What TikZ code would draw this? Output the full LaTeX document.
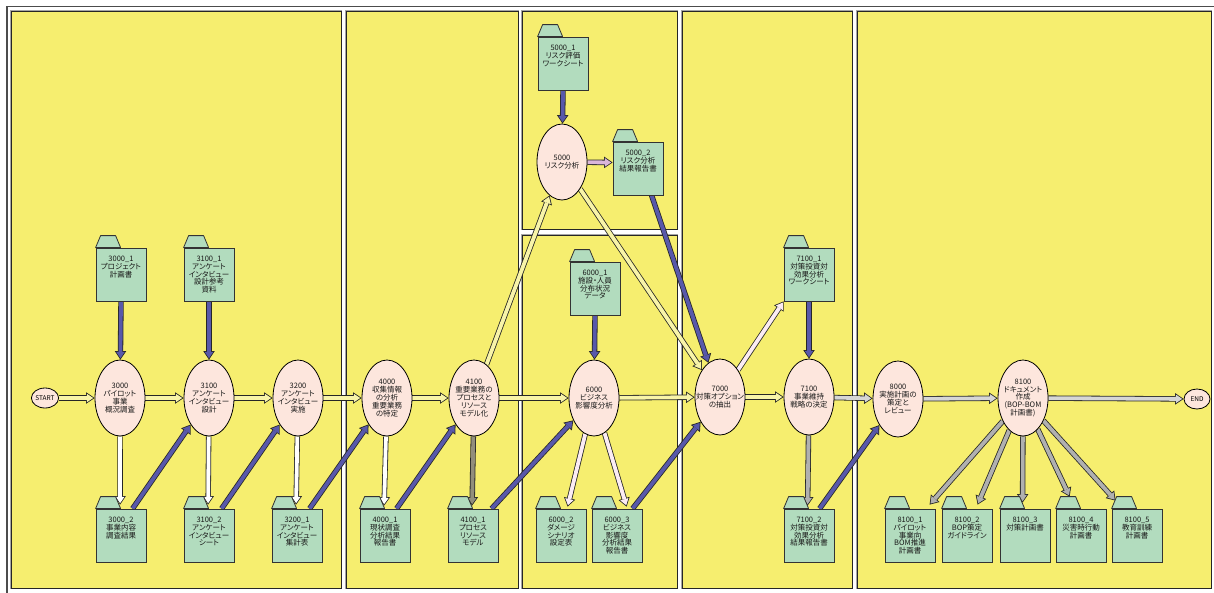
\documentclass[tikz,border=0pt]{standalone}
\usepackage{fontspec}
\setmainfont{Noto Sans CJK JP}[RawFeature=+palt]
\usetikzlibrary{arrows.meta,shapes.geometric,calc}
\pgfdeclarelayer{panels}
\pgfdeclarelayer{links}
\pgfsetlayers{panels,links,main}

\definecolor{panelY}{RGB}{246,238,111}
\definecolor{docG}{RGB}{178,220,190}
\definecolor{procP}{RGB}{253,230,221}
\definecolor{flowY}{RGB}{248,244,168}
\definecolor{inBlue}{RGB}{88,88,170}
\definecolor{outWhite}{RGB}{255,255,255}
\definecolor{outPink}{RGB}{251,236,244}
\definecolor{riskPink}{RGB}{218,182,218}
\definecolor{endGray}{RGB}{214,214,214}
\definecolor{docGray}{RGB}{176,176,176}
\definecolor{modelGray}{RGB}{146,142,124}

\tikzset{
  x=1pt, y=-1pt,
  panel/.style={fill=panelY, draw=black!85, line width=0.9pt,
    preaction={draw=black!35, line width=2.6pt}},
  proc/.style={ellipse, draw=black, line width=0.8pt, fill=procP,
    minimum width=50pt, minimum height=76pt, inner sep=0pt},
  term/.style={ellipse, draw=black, line width=0.8pt, fill=procP,
    minimum width=26pt, minimum height=20pt, inner sep=0pt,
    font=\fontsize{6.5}{6.5}\selectfont},
  txt/.style={align=center, inner sep=0pt, text=black!90,
    font=\fontsize{7.5}{7.9}\selectfont},
  docbox/.style={rectangle, draw=black!80, line width=0.8pt, fill=docG,
    minimum width=50pt, minimum height=53pt, inner sep=0pt},
  doctab/.style={draw=black!80, line width=0.8pt, fill=docG, line join=round},
  linkout/.style={draw=black!85, line width=5.4pt,
    -{Triangle[length=8.5pt 0 0, width=11.5pt 0 0, line width=0pt 0 0]}},
  linkin/.style={draw=#1, line width=3.8pt, shorten >=1.41pt,
    -{Triangle[length=6.3pt 0 0, width=8.5pt 0 0, line width=0pt 0 0]}},
}

% process ellipse: name, x, y, label
\newcommand\procnode[4]{%
  \node[proc] (#1) at (#2,#3) {};
  \node[txt] (#1-t) at (#1) {#4};}
% document folder: name, left x, top y, label
\newcommand\docnode[4]{%
  \node[docbox] (#1) at ({#2+25},{#3+26.5}) {};
  \draw[doctab] (#1.north west) -- ++(5,-12) -- ++(15,0) -- ++(5,12) -- cycle;
  \node[txt, anchor=north] (#1-t) at ([yshift=-8pt]#1.north) {#4};}
% hollow connector: fill colour, from, to
\newcommand\link[3]{%
  \draw[linkout] #2 -- #3;
  \draw[linkin=#1] #2 -- #3;}

\begin{document}
\begin{tikzpicture}
\useasboundingbox (0,0) rectangle (1214,592);

\begin{pgfonlayer}{panels}
  \fill[white] (0,0) rectangle (1214,592);
  \draw[black!70, line width=1.6pt] (7,600) -- (7,6.5) -- (1220,6.5);
  \draw[panel] (11,11) rectangle (341,588);
  \draw[panel] (346,11) rectangle (518,588);
  \draw[panel] (522,11) rectangle (677,229);
  \draw[panel] (522,235) rectangle (677,588);
  \draw[panel] (682,11) rectangle (852,588);
  \draw[panel] (857,11) rectangle (1211,588);
\end{pgfonlayer}

% processes
\node[term] (start) at (45,398) {START};
\procnode{p3000}{120}{398}{3000\\パイロット\\事業\\概況調査}
\procnode{p3100}{209}{398}{3100\\アンケート\\インタビュー\\設計}
\procnode{p3200}{298}{398}{3200\\アンケート\\インタビュー\\実施}
\procnode{p4000}{387}{398}{4000\\収集情報\\の分析\\重要業務\\の特定}
\procnode{p4100}{474}{398}{4100\\重要業務の\\プロセスと\\リソース\\モデル化}
\procnode{p5000}{562}{162}{5000\\リスク分析}
\procnode{p6000}{594}{398}{6000\\ビジネス\\影響度分析}
\procnode{p7000}{720}{397}{7000\\対策オプション\\の抽出}
\procnode{p7100}{809}{397}{7100\\事業維持\\戦略の決定}
\procnode{p8000}{898}{399}{8000\\実施計画の\\策定と\\レビュー}
\procnode{p8100}{1023}{398}{8100\\ドキュメント\\作成\\(BOP-BOM\\計画書)}
\node[term] (end) at (1197,399) {END};

% documents
\docnode{d3000-1}{96}{248}{3000\_1\\プロジェクト\\計画書}
\docnode{d3100-1}{184}{248}{3100\_1\\アンケート\\インタビュー\\設計参考\\資料}
\docnode{d3000-2}{96}{509}{3000\_2\\事業内容\\調査結果}
\docnode{d3100-2}{184}{509}{3100\_2\\アンケート\\インタビュー\\シート}
\docnode{d3200-1}{272}{509}{3200\_1\\アンケート\\インタビュー\\集計表}
\docnode{d4000-1}{360}{509}{4000\_1\\現状調査\\分析結果\\報告書}
\docnode{d4100-1}{448}{509}{4100\_1\\プロセス\\リソース\\モデル}
\docnode{d5000-1}{538}{37}{5000\_1\\リスク評価\\ワークシート}
\docnode{d5000-2}{613}{142}{5000\_2\\リスク分析\\結果報告書}
\docnode{d6000-1}{570}{262}{6000\_1\\施設・人員\\分布状況\\データ}
\docnode{d6000-2}{536}{509}{6000\_2\\ダメージ\\シナリオ\\設定表}
\docnode{d6000-3}{592}{509}{6000\_3\\ビジネス\\影響度\\分析結果\\報告書}
\docnode{d7100-1}{784}{248}{7100\_1\\対策投資対\\効果分析\\ワークシート}
\docnode{d7100-2}{784}{509}{7100\_2\\対策投資対\\効果分析\\結果報告書}
\docnode{d8100-1}{885}{509}{8100\_1\\パイロット\\事業向\\BOM推進\\計画書}
\docnode{d8100-2}{942}{509}{8100\_2\\BOP策定\\ガイドライン}
\docnode{d8100-3}{1000}{509}{8100\_3\\対策計画書}
\docnode{d8100-4}{1056}{509}{8100\_4\\災害時行動\\計画書}
\docnode{d8100-5}{1112}{509}{8100\_5\\教育訓練\\計画書}

\begin{pgfonlayer}{links}
  % main flow
  \link{flowY}{(start)}{(p3000)}
  \link{flowY}{(p3000)}{(p3100)}
  \link{flowY}{(p3100)}{(p3200)}
  \link{flowY}{(p3200)}{(p4000)}
  \link{flowY}{(p4000)}{(p4100)}
  \link{flowY}{(p4100)}{(p6000)}
  \link{flowY}{(p6000)}{(p7000)}
  \link{flowY}{(p7000)}{(p7100)}
  \link{flowY}{(p4100)}{(p5000)}
  \link{flowY}{(p5000)}{(p7000)}
  \link{endGray}{(p7100)}{(p8000)}
  \link{endGray}{(p8000)}{(p8100)}
  \link{endGray}{(p8100)}{(end)}

  % inputs
  \link{inBlue}{(d3000-1.south)}{(p3000)}
  \link{inBlue}{(d3100-1.south)}{(p3100)}
  \link{inBlue}{(d5000-1.south)}{(p5000)}
  \link{inBlue}{(d6000-1.south)}{(p6000)}
  \link{inBlue}{(d7100-1.south)}{(p7100)}
  \link{inBlue}{([xshift=37pt]d3000-2.north west)}{(p3100)}
  \link{inBlue}{([xshift=38pt]d3100-2.north west)}{(p3200)}
  \link{inBlue}{([xshift=38pt]d3200-1.north west)}{(p4000)}
  \link{inBlue}{([xshift=37pt]d4000-1.north west)}{(p4100)}
  \link{inBlue}{([xshift=44pt]d4100-1.north west)}{(p6000)}
  \link{inBlue}{([xshift=41pt]d6000-3.north west)}{(p7000)}
  \link{inBlue}{([xshift=39pt]d5000-2.south west)}{(p7000)}
  \link{inBlue}{([xshift=36pt]d7100-2.north west)}{(p8000)}

  % outputs
  \link{outWhite}{(p3000)}{([xshift=24.5pt,yshift=4pt]d3000-2.north west)}
  \link{outWhite}{(p3100)}{([xshift=24.5pt,yshift=4pt]d3100-2.north west)}
  \link{outWhite}{(p3200)}{([xshift=24.5pt,yshift=4pt]d3200-1.north west)}
  \link{outWhite}{(p4000)}{([xshift=24.5pt,yshift=3pt]d4000-1.north west)}
  \link{modelGray}{(p4100)}{([xshift=24.5pt,yshift=3pt]d4100-1.north west)}
  \link{riskPink}{(p5000)}{([yshift=6pt]d5000-2.west)}
  \link{outPink}{(p6000)}{([xshift=32pt,yshift=2pt]d6000-2.north west)}
  \link{outPink}{(p6000)}{([xshift=35pt,yshift=2pt]d6000-3.north west)}
  \link{outPink}{(p7000)}{(d7100-1.south west)}
  \link{docGray}{(p7100)}{([xshift=24pt,yshift=3pt]d7100-2.north west)}
  \link{docGray}{(p8100)}{([xshift=45pt,yshift=4pt]d8100-1.north west)}
  \link{docGray}{(p8100)}{([xshift=36pt,yshift=4pt]d8100-2.north west)}
  \link{docGray}{(p8100)}{([xshift=23pt,yshift=6pt]d8100-3.north west)}
  \link{docGray}{(p8100)}{([xshift=14pt,yshift=12pt]d8100-4.north west)}
  \link{docGray}{(p8100)}{([xshift=4pt,yshift=8pt]d8100-5.north west)}
\end{pgfonlayer}
\end{tikzpicture}
\end{document}
